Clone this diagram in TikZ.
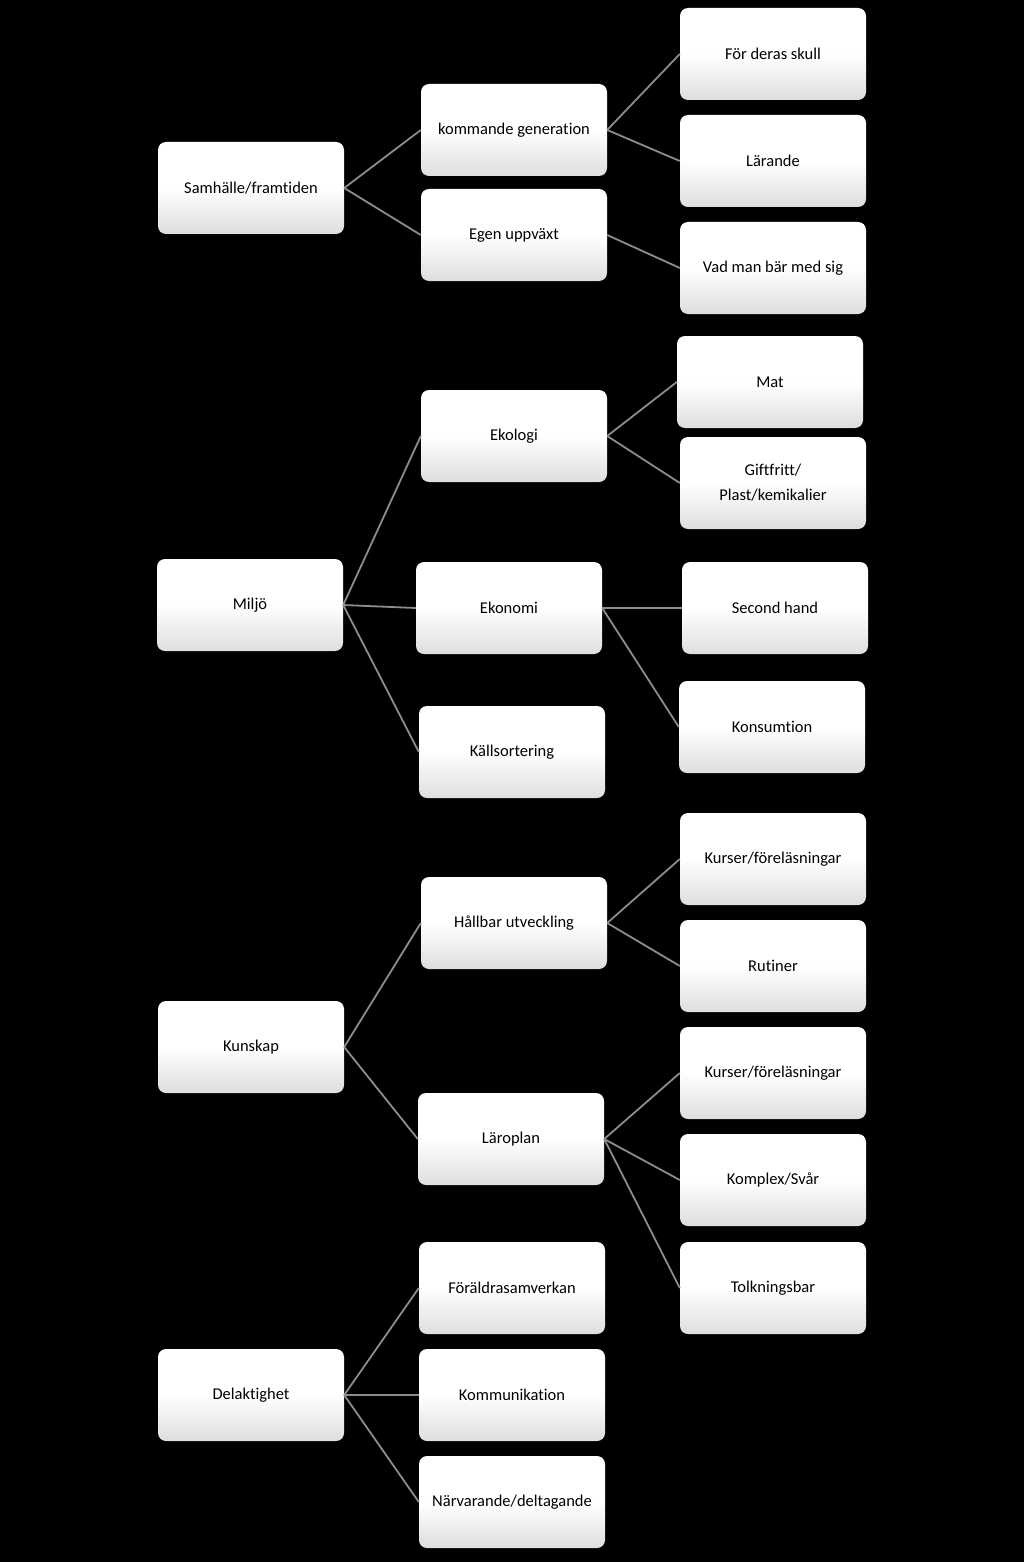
\documentclass[tikz,border=0pt]{standalone}
\usepackage{fontspec}
\setmainfont{Carlito}[Ligatures={NoCommon}]
\pgfdeclareverticalshading{boxshade}{100bp}{color(0bp)=(black!13); color(25bp)=(black!13); color(50bp)=(white); color(100bp)=(white)}
\tikzset{
  bx/.style={rounded corners=8pt, minimum width=186pt, minimum height=92pt, shading=boxshade, draw=none, align=center, font=\fontsize{16.5}{25}\selectfont, inner sep=0pt},
  ln/.style={draw=black!45, line width=1.8pt}
}
\begin{document}
\begin{tikzpicture}[x=1pt,y=-1pt]
\fill[black] (0,0) rectangle (1024,1562);
\useasboundingbox (0,0) rectangle (1024,1562);
% level 0
\node[bx] (s) at (251,188) {Samhälle/framtiden};
\node[bx] (m) at (250,605) {Miljö};
\node[bx] (k) at (251,1047) {Kunskap};
\node[bx] (d) at (251,1395) {Delaktighet};
% level 1
\node[bx] (kg) at (514,130) {kommande generation};
\node[bx] (eu) at (514,235) {Egen uppväxt};
\node[bx] (ek) at (514,436) {Ekologi};
\node[bx] (en) at (509,608) {Ekonomi};
\node[bx] (ks) at (512,752) {Källsortering};
\node[bx] (hu) at (514,923) {Hållbar utveckling};
\node[bx] (lp) at (511,1139) {Läroplan};
\node[bx] (fs) at (512,1288) {Föräldrasamverkan};
\node[bx] (ko) at (512,1395) {Kommunikation};
\node[bx] (nd) at (512,1502) {Närvarande/deltagande};
% level 2
\node[bx] (fd) at (773,54) {För deras skull};
\node[bx] (la) at (773,161) {Lärande};
\node[bx] (vm) at (773,268) {Vad man bär med sig};
\node[bx] (ma) at (770,382) {Mat};
\node[bx] (gf) at (773,483) {Giftfritt/\\Plast/kemikalier};
\node[bx] (sh) at (775,608) {Second hand};
\node[bx] (kn) at (772,727) {Konsumtion};
\node[bx] (kf1) at (773,859) {Kurser/föreläsningar};
\node[bx] (ru) at (773,966) {Rutiner};
\node[bx] (kf2) at (773,1073) {Kurser/föreläsningar};
\node[bx] (kx) at (773,1180) {Komplex/Svår};
\node[bx] (tb) at (773,1288) {Tolkningsbar};
% connectors
\foreach \a/\b in {s/kg,s/eu,m/ek,m/en,m/ks,k/hu,k/lp,d/fs,d/ko,d/nd,
  kg/fd,kg/la,eu/vm,ek/ma,ek/gf,en/sh,en/kn,hu/kf1,hu/ru,lp/kf2,lp/kx,lp/tb}
  \draw[ln] (\a.east) -- (\b.west);
\end{tikzpicture}
\end{document}
